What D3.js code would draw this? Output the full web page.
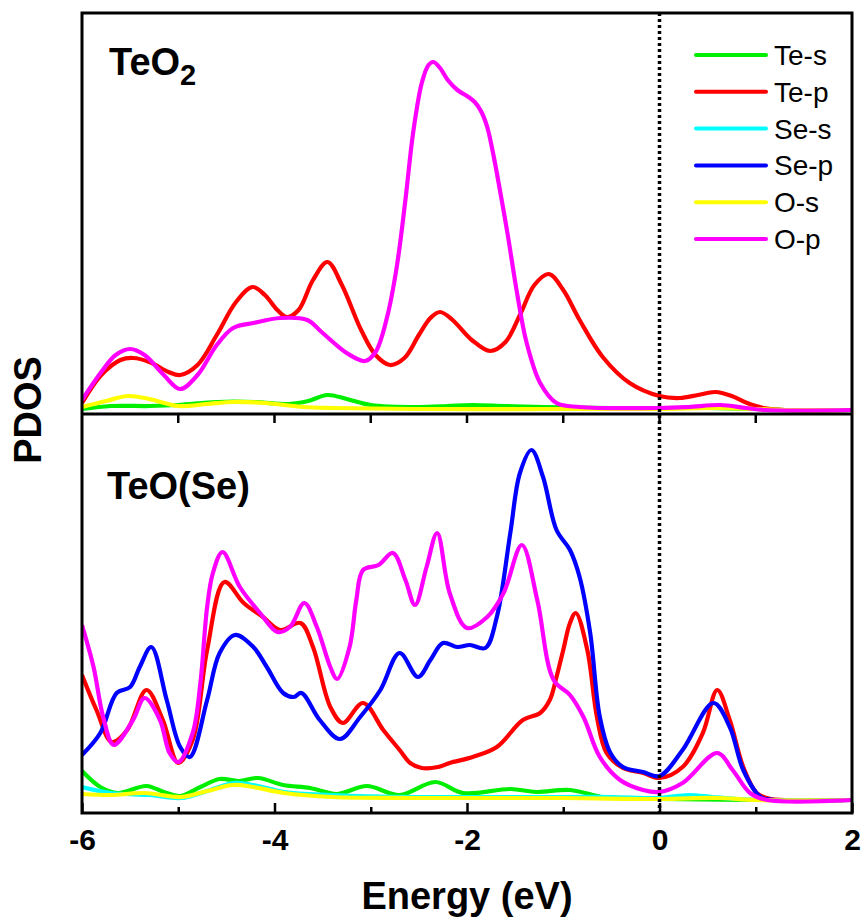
<!DOCTYPE html>
<html>
<head>
<meta charset="utf-8">
<script src="https://cdn.jsdelivr.net/npm/d3@7"></script>
<style>
  body { margin: 0; background: #fff; }
  svg text { font-family: Arial, "Liberation Sans", sans-serif; }
</style>
</head>
<body>
<div id="chart"></div>
<script>
// ---- data: [energy (eV), PDOS (arb. units)] ----
var seriesNames  = ["Te-s", "Te-p", "Se-s", "Se-p", "O-s", "O-p"];
var seriesColors = ["#00ee00", "#ff0000", "#00ffff", "#0000ff", "#ffff00", "#ff00ff"];
var xTicks       = [-6, -5, -4, -3, -2, -1, 0, 1, 2];

// TeO2 panel
var teo2TeS = [[-6,1],[-5.7,4],[-5.3,4],[-5.0,5],[-4.6,8],[-4.2,8],[-3.85,6],[-3.65,9],[-3.45,15],[-3.25,11],
  [-3.0,5],[-2.5,3],[-2.2,4],[-1.95,5],[-1.6,4],[-1.2,3],[-0.5,2],[0.5,2],[1.0,1],[1.3,0],[2,0]];
var teo2TeP = [[-6,7],[-5.8,35],[-5.6,50],[-5.47,52],[-5.3,48],[-5.1,38],[-4.98,35],[-4.8,45],[-4.6,75],[-4.4,108],
  [-4.23,123],[-4.1,115],[-3.97,100],[-3.87,93],[-3.75,100],[-3.6,130],[-3.45,148],[-3.3,125],[-3.1,80],[-2.95,55],
  [-2.8,45],[-2.65,52],[-2.5,75],[-2.38,92],[-2.28,98],[-2.15,90],[-1.95,70],[-1.76,59],[-1.6,68],[-1.45,95],
  [-1.3,125],[-1.15,136],[-1.0,120],[-0.83,90],[-0.59,53],[-0.31,27],[0,14],[0.21,12],[0.4,15],[0.58,18],
  [0.75,14],[0.91,7],[1.08,2],[1.3,0],[2,0]];
var teo2OS = [[-6,3],[-5.75,9],[-5.52,14],[-5.3,11],[-5.0,4],[-4.7,6],[-4.43,8],[-4.1,7],[-3.7,3],[-3.4,2],
  [-2.5,1],[-1,1],[0,1],[0.6,2],[1.0,1],[1.3,0],[2,0]];
var teo2OP = [[-6,10],[-5.8,38],[-5.65,55],[-5.5,61],[-5.35,55],[-5.15,35],[-4.98,21],[-4.8,35],[-4.6,65],[-4.43,82],
  [-4.22,87],[-3.94,92],[-3.66,90],[-3.5,77],[-3.25,57],[-3.06,49],[-2.95,58],[-2.83,93],[-2.73,143],[-2.64,210],
  [-2.56,277],[-2.47,327],[-2.4,345],[-2.35,348],[-2.28,342],[-2.2,330],[-2.1,320],[-2.0,314],[-1.92,308],
  [-1.85,298],[-1.79,283],[-1.74,262],[-1.69,237],[-1.58,177],[-1.48,117],[-1.38,67],[-1.24,27],[-1.07,7],
  [-0.83,3],[0,2],[0.3,3],[0.63,5],[0.9,2],[1.1,0],[2,0]];

// TeO(Se) panel
var teoseTeS = [[-6,29],[-5.81,13],[-5.63,7],[-5.33,14],[-5.15,8],[-4.98,4],[-4.77,13],[-4.57,21],[-4.37,19],[-4.17,22],
  [-3.91,15],[-3.63,12],[-3.35,6],[-3.04,14],[-2.7,5],[-2.33,18],[-2.04,7],[-1.55,11],[-1.28,8],[-0.93,10],
  [-0.6,3],[-0.4,2],[0,1],[1.0,0],[2,0]];
var teoseTeP = [[-6,125],[-5.85,90],[-5.69,58],[-5.53,70],[-5.33,110],[-5.16,80],[-5.0,37],[-4.85,60],[-4.7,150],
  [-4.52,218],[-4.32,197],[-4.12,183],[-3.94,170],[-3.73,177],[-3.6,153],[-3.42,93],[-3.29,77],[-3.08,97],
  [-2.87,70],[-2.7,50],[-2.59,37],[-2.47,32],[-2.3,33],[-2.18,37],[-1.94,43],[-1.69,53],[-1.42,80],[-1.24,87],
  [-1.14,100],[-1.07,123],[-1.0,150],[-0.93,177],[-0.87,187],[-0.75,150],[-0.65,83],[-0.55,47],[-0.38,32],
  [-0.17,27],[0,22],[0.24,33],[0.45,67],[0.6,110],[0.73,80],[0.87,33],[1.01,7],[1.15,1],[1.3,0],[2,0]];
var teoseSeS = [[-6,13],[-5.7,7],[-5.3,5],[-4.97,2],[-4.7,9],[-4.43,17],[-4.22,15],[-3.9,8],[-3.4,5],[-2.5,3],
  [-1.0,3],[-0.5,3],[0,2],[0.3,5],[0.55,3],[0.8,1],[1.1,0],[2,0]];
var teoseSeP = [[-6,45],[-5.81,67],[-5.64,107],[-5.5,113],[-5.4,133],[-5.28,153],[-5.12,100],[-4.98,53],[-4.88,43],
  [-4.7,100],[-4.57,147],[-4.41,165],[-4.22,153],[-4.08,133],[-3.91,107],[-3.8,103],[-3.72,107],[-3.53,80],
  [-3.32,61],[-3.11,83],[-2.9,110],[-2.7,147],[-2.51,123],[-2.38,140],[-2.25,157],[-2.1,153],[-1.97,155],
  [-1.81,152],[-1.69,183],[-1.55,267],[-1.45,327],[-1.33,350],[-1.21,323],[-1.07,270],[-0.93,250],[-0.83,223],
  [-0.72,167],[-0.62,83],[-0.51,47],[-0.38,33],[-0.17,28],[0,24],[0.24,50],[0.56,97],[0.73,73],[0.87,30],
  [1.05,3],[1.2,0],[2,0]];
var teoseOS = [[-6,6],[-5.7,5],[-5.35,7],[-4.97,3],[-4.7,9],[-4.43,15],[-4.22,13],[-3.9,7],[-3.4,3],[-2.5,2],
  [-1.0,2],[0,1],[0.6,2],[1.0,0],[2,0]];
var teoseOP = [[-6,175],[-5.88,133],[-5.78,83],[-5.67,55],[-5.47,80],[-5.35,102],[-5.19,80],[-5.09,47],[-5.0,38],
  [-4.85,67],[-4.77,117],[-4.7,193],[-4.64,227],[-4.54,248],[-4.36,213],[-4.15,187],[-3.97,168],[-3.84,173],
  [-3.69,197],[-3.56,173],[-3.42,133],[-3.35,121],[-3.22,153],[-3.15,200],[-3.08,230],[-2.92,235],[-2.77,247],
  [-2.64,220],[-2.54,195],[-2.42,233],[-2.31,267],[-2.18,207],[-2.0,172],[-1.79,183],[-1.62,207],[-1.43,255],
  [-1.27,200],[-1.1,120],[-0.93,105],[-0.79,83],[-0.62,43],[-0.41,20],[-0.17,10],[0,8],[0.24,17],[0.6,47],
  [0.76,30],[0.94,7],[1.12,0],[2,0]];

var panels = [
  { series: [teo2TeS, teo2TeP, null, null, teo2OS, teo2OP] },
  { series: [teoseTeS, teoseTeP, teoseSeS, teoseSeP, teoseOS, teoseOP] }
];

// ---- layout ----
var width  = 861,
    height = 918;
var plotLeft = 82, plotRight = 852, plotTop = 13, plotMid = 414, plotBottom = 813;

var svg = d3.select("#chart").append("svg")
  .attr("width", width)
  .attr("height", height);

var x = d3.scaleLinear().domain([-6, 2]).range([plotLeft, plotRight]);

// each panel has its own PDOS scale, zero sitting just above the panel floor
panels[0].y = d3.scaleLinear().domain([0, 400]).range([410, 10]);
panels[0].clip = [plotTop, plotMid];
panels[1].y = d3.scaleLinear().domain([0, 400]).range([800, 400]);
panels[1].clip = [plotMid, plotBottom];

var defs = svg.append("defs");

panels.forEach(function (p, pi) {
  defs.append("clipPath").attr("id", "clip" + pi)
    .append("rect")
    .attr("x", plotLeft).attr("y", p.clip[0])
    .attr("width", plotRight - plotLeft).attr("height", p.clip[1] - p.clip[0]);

  var line = d3.line()
    .x(function (d) { return x(d[0]); })
    .y(function (d) { return p.y(d[1]); })
    .curve(d3.curveCatmullRom.alpha(0.5));

  var g = svg.append("g").attr("clip-path", "url(#clip" + pi + ")");

  p.series.forEach(function (s, i) {
    if (!s) return;
    g.append("path")
      .attr("d", line(s))
      .attr("fill", "none")
      .attr("stroke", seriesColors[i])
      .attr("stroke-width", 4.2)
      .attr("stroke-linejoin", "round");
  });
});

// Fermi level
svg.append("line")
  .attr("x1", x(0)).attr("x2", x(0))
  .attr("y1", plotTop).attr("y2", plotBottom)
  .attr("stroke", "#000")
  .attr("stroke-width", 3.5)
  .attr("stroke-dasharray", "3,3");

// ticks: divider ticks point down, bottom ticks point up
function tickLen(v) { return v % 2 === 0 ? 10 : 6; }

svg.append("g").selectAll("line")
  .data(xTicks.slice(1, -1))
  .enter().append("line")
  .attr("x1", function (d) { return x(d); })
  .attr("x2", function (d) { return x(d); })
  .attr("y1", plotMid)
  .attr("y2", plotMid + 9)
  .attr("stroke", "#000").attr("stroke-width", 2.5);

var xAxis = d3.axisBottom(x)
  .tickValues(xTicks)
  .tickSize(0)
  .tickPadding(0);

var axisG = svg.append("g")
  .attr("transform", "translate(0," + plotBottom + ")")
  .call(xAxis);
axisG.select(".domain").remove();
axisG.selectAll(".tick line")
  .attr("y2", function (d) { return -tickLen(d); })
  .attr("stroke", "#000").attr("stroke-width", 2.5);
axisG.selectAll(".tick text")
  .attr("y", 37)
  .attr("dy", null)
  .attr("fill", "#000")
  .style("font-size", "30px")
  .style("font-weight", "bold")
  .style("font-family", "Arial, 'Liberation Sans', sans-serif")
  .text(function (d) { return d % 2 === 0 ? (d < 0 ? "-" + Math.abs(d) : d) : ""; });

// frame + divider
svg.append("rect")
  .attr("x", plotLeft).attr("y", plotTop)
  .attr("width", plotRight - plotLeft).attr("height", plotBottom - plotTop)
  .attr("fill", "none").attr("stroke", "#000").attr("stroke-width", 3);
svg.append("line")
  .attr("x1", plotLeft).attr("x2", plotRight)
  .attr("y1", plotMid).attr("y2", plotMid)
  .attr("stroke", "#000").attr("stroke-width", 3);

// panel labels
var t1 = svg.append("text")
  .attr("x", 109).attr("y", 75)
  .style("font-size", "38px").style("font-weight", "bold")
  .text("TeO");
t1.append("tspan")
  .attr("dy", 10)
  .style("font-size", "29px")
  .text("2");

svg.append("text")
  .attr("x", 107).attr("y", 499)
  .style("font-size", "38px").style("font-weight", "bold")
  .text("TeO(Se)");

// axis titles
svg.append("text")
  .attr("x", (plotLeft + plotRight) / 2).attr("y", 909)
  .attr("text-anchor", "middle")
  .style("font-size", "38px").style("font-weight", "bold")
  .text("Energy (eV)");

svg.append("text")
  .attr("transform", "translate(41,410) rotate(-90)")
  .attr("text-anchor", "middle")
  .style("font-size", "38px").style("font-weight", "bold")
  .text("PDOS");

// legend
var legend = svg.append("g").selectAll("g")
  .data(seriesNames)
  .enter().append("g")
  .attr("transform", function (d, i) { return "translate(696," + (55 + i * 36.8) + ")"; });

legend.append("line")
  .attr("x1", 0).attr("x2", 70)
  .attr("stroke", function (d, i) { return seriesColors[i]; })
  .attr("stroke-width", 4)
  .attr("stroke-linecap", "round");

legend.append("text")
  .attr("x", 78).attr("y", 10)
  .style("font-size", "28px")
  .text(function (d) { return d; });
</script>
</body>
</html>
